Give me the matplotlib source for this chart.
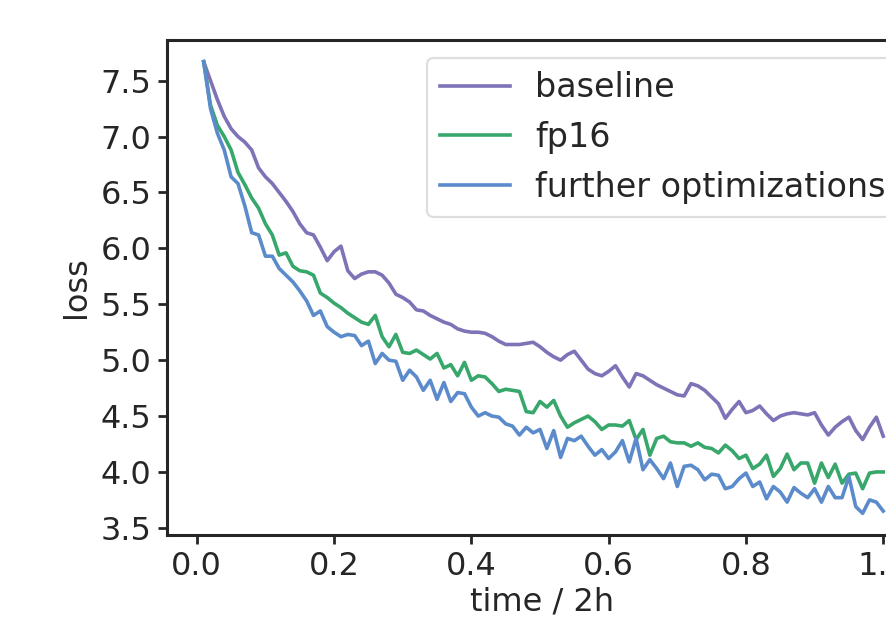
import matplotlib
matplotlib.use("Agg")
import matplotlib.pyplot as plt
import numpy as np

# training loss, one point every 0.01 of the run
time = np.arange(1, 101) / 100.0

baseline = [7.67, 7.50, 7.33, 7.18, 7.07, 7.00, 6.95, 6.88, 6.72, 6.64,
            6.58, 6.50, 6.42, 6.33, 6.22, 6.14, 6.12, 6.01, 5.89, 5.97,
            6.02, 5.80, 5.73, 5.77, 5.79, 5.79, 5.76, 5.69, 5.59, 5.56,
            5.52, 5.45, 5.44, 5.40, 5.37, 5.34, 5.32, 5.28, 5.26, 5.25,
            5.25, 5.24, 5.21, 5.17, 5.14, 5.14, 5.14, 5.15, 5.16, 5.12,
            5.07, 5.03, 5.00, 5.05, 5.08, 5.00, 4.92, 4.88, 4.86, 4.90,
            4.95, 4.85, 4.76, 4.88, 4.86, 4.82, 4.78, 4.75, 4.72, 4.69,
            4.68, 4.79, 4.77, 4.73, 4.67, 4.61, 4.48, 4.56, 4.63, 4.53,
            4.55, 4.59, 4.52, 4.46, 4.50, 4.52, 4.53, 4.52, 4.51, 4.53,
            4.42, 4.33, 4.40, 4.45, 4.49, 4.37, 4.29, 4.40, 4.49, 4.32]

fp16 = [7.67, 7.28, 7.10, 7.00, 6.88, 6.68, 6.57, 6.45, 6.36, 6.22,
        6.12, 5.94, 5.96, 5.84, 5.80, 5.79, 5.76, 5.60, 5.56, 5.51,
        5.47, 5.42, 5.38, 5.34, 5.32, 5.40, 5.21, 5.12, 5.23, 5.07,
        5.06, 5.09, 5.05, 5.01, 5.06, 4.93, 4.96, 4.86, 4.98, 4.82,
        4.86, 4.85, 4.79, 4.72, 4.74, 4.73, 4.72, 4.54, 4.53, 4.63,
        4.58, 4.64, 4.50, 4.40, 4.44, 4.47, 4.50, 4.45, 4.38, 4.42,
        4.42, 4.41, 4.46, 4.29, 4.38, 4.15, 4.30, 4.32, 4.27, 4.26,
        4.26, 4.23, 4.26, 4.22, 4.21, 4.17, 4.24, 4.19, 4.12, 4.15,
        4.03, 4.07, 4.15, 3.96, 4.03, 4.16, 4.02, 4.08, 4.08, 3.90,
        4.08, 3.95, 4.07, 3.90, 3.98, 3.99, 3.85, 3.99, 4.00, 4.00]

further = [7.67, 7.25, 7.03, 6.88, 6.64, 6.58, 6.38, 6.14, 6.12, 5.93,
           5.93, 5.82, 5.76, 5.70, 5.62, 5.53, 5.40, 5.44, 5.30, 5.25,
           5.21, 5.23, 5.22, 5.13, 5.17, 4.97, 5.06, 5.00, 4.99, 4.82,
           4.91, 4.85, 4.73, 4.82, 4.65, 4.80, 4.63, 4.71, 4.70, 4.58,
           4.50, 4.53, 4.50, 4.49, 4.43, 4.41, 4.33, 4.40, 4.35, 4.38,
           4.21, 4.37, 4.13, 4.30, 4.28, 4.32, 4.23, 4.15, 4.20, 4.12,
           4.18, 4.28, 4.09, 4.30, 4.02, 4.11, 4.03, 3.94, 4.08, 3.87,
           4.05, 4.06, 4.02, 3.93, 3.98, 3.97, 3.85, 3.87, 3.94, 3.99,
           3.87, 3.91, 3.76, 3.87, 3.82, 3.73, 3.86, 3.81, 3.77, 3.85,
           3.73, 3.87, 3.77, 3.77, 3.96, 3.69, 3.63, 3.75, 3.73, 3.65]

labels = ['baseline', 'fp16', 'further optimizations']
colors = ['#7f72b7', '#38a76b', '#5b8bcb']
xticks = [0.0, 0.2, 0.4, 0.6, 0.8, 1.0]
yticks = [3.5, 4.0, 4.5, 5.0, 5.5, 6.0, 6.5, 7.0, 7.5]

dark = '#262626'
fs = 23
plt.rcParams['font.family'] = 'DejaVu Sans'
plt.rcParams['text.color'] = dark
plt.rcParams['axes.labelcolor'] = dark

fig = plt.figure(figsize=(8.86, 6.18), dpi=100)
# the axes run past the right edge of the canvas, as in the original crop
ax = fig.add_axes([0.1888, 0.1343, 0.8468, 0.801])

for series, lab, col in zip([baseline, fp16, further], labels, colors):
    ax.plot(time, series, color=col, lw=2.6, label=lab)

ax.set_xlim(-0.043, 1.05)
ax.set_ylim(3.436, 7.864)
ax.set_xticks(xticks)
ax.set_xticklabels([f'{t:.1f}' for t in xticks])
ax.set_yticks(yticks)
ax.set_yticklabels([f'{t:.1f}' for t in yticks])

for sp in ax.spines.values():
    sp.set_linewidth(2.2)
    sp.set_color(dark)
ax.tick_params(axis='both', labelsize=fs, length=6.5, width=2.0,
               color=dark, labelcolor=dark, pad=5)

ax.set_xlabel('time / 2h', fontsize=fs, labelpad=3)
ax.set_ylabel('loss', fontsize=fs, labelpad=6)

leg = ax.legend(loc='upper left', bbox_to_anchor=(427 / 886, 1 - 58 / 618),
                bbox_transform=fig.transFigure, borderaxespad=0,
                fontsize=24, handlelength=2.1, handletextpad=0.75,
                labelspacing=0.5, borderpad=0.4, fancybox=True,
                framealpha=0.8)
leg.get_frame().set_edgecolor('#d6d6d6')
leg.get_frame().set_linewidth(1.6)

fig.savefig('out.png', dpi=100)
